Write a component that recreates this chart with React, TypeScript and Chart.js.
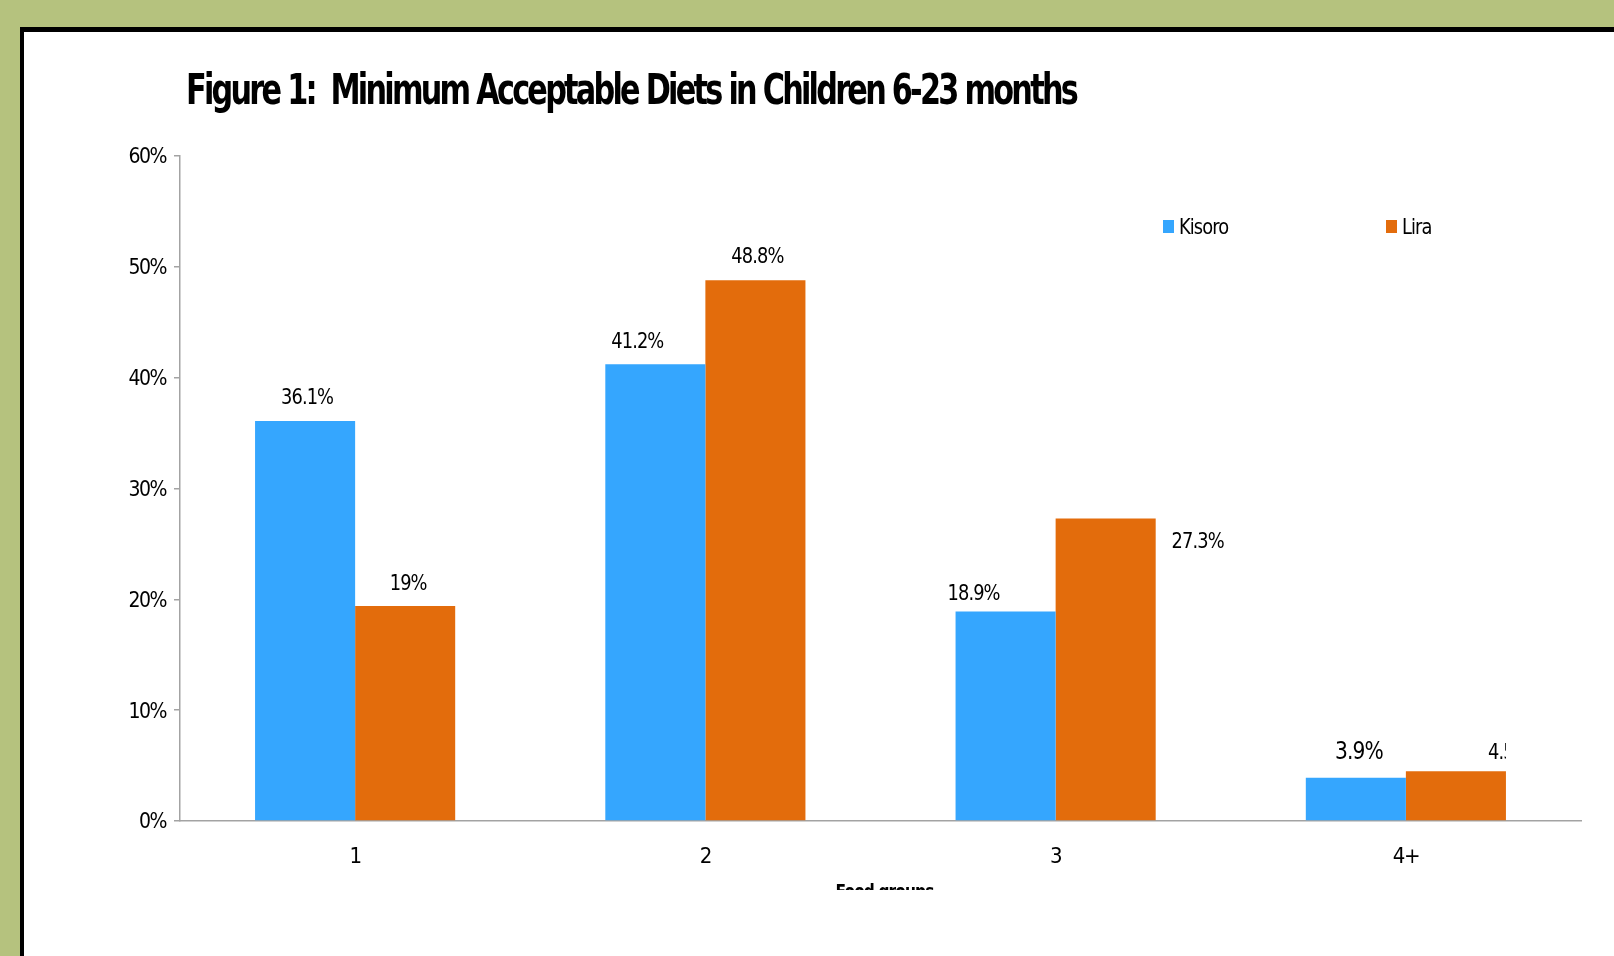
import React, { useEffect, useRef } from "react";
import { Chart, registerables } from "chart.js";
Chart.register(...registerables);

// ---- data ----
const categories = ["1", "2", "3", "4+"];
const seriesNames = ["Kisoro", "Lira"];
const kisoroValues = [36.1, 41.2, 18.9, 3.9];
const liraValues = [19.4, 48.8, 27.3, 4.5];
const kisoroLabels = ["36.1%", "41.2%", "18.9%", "3.9%"];
const liraLabels = ["19%", "48.8%", "27.3%", "4.5%"];
const yTickValues = [0, 10, 20, 30, 40, 50, 60];
const chartTitle = "Figure 1:  Minimum Acceptable Diets in Children 6-23 months";
const xAxisTitle = "Food groups";

// ---- style ----
const FONT = "'DejaVu Sans Condensed', 'DejaVu Sans', sans-serif";
const BLUE = "#35A6FE";
const ORANGE = "#E36C0C";
const GREEN = "#B5C27E";
const AXIS = "#A3A3A3";
// per-label offsets relative to bar (center x, top y)
const kisoroLabelDx = [2, -18, -32, 3];
const kisoroLabelDy = [-23, -22, -17, -25];
const kisoroLabelSize = [22, 22, 22, 25];
const liraLabelDx = [3, 2, 92, 53];
const liraLabelDy = [-22, -23, 24, -18];
const liraLabelSize = [22, 22, 22, 22];
const liraLabelClipToBar = [false, false, false, true];

function drawText(
  ctx: CanvasRenderingContext2D,
  text: string,
  x: number,
  y: number,
  font: string,
  sx: number,
  align: CanvasTextAlign,
  baseline: CanvasTextBaseline,
  spacing = "-1px"
) {
  ctx.save();
  ctx.font = font;
  (ctx as any).letterSpacing = spacing;
  ctx.fillStyle = "#000";
  ctx.textAlign = align;
  ctx.textBaseline = baseline;
  ctx.translate(x, y);
  ctx.scale(sx, 1);
  ctx.fillText(text, 0, 0);
  ctx.restore();
}

const framePlugin = {
  id: "frame",
  beforeDraw(chart: any) {
    const ctx = chart.ctx as CanvasRenderingContext2D;
    const w = chart.width, h = chart.height;
    ctx.save();
    ctx.fillStyle = GREEN;
    ctx.fillRect(0, 0, w, h);
    ctx.fillStyle = "#000";
    ctx.fillRect(20, 27, w - 20, h - 27);
    ctx.fillStyle = "#fff";
    ctx.fillRect(24, 32, w - 24, h - 32);
    ctx.restore();
    (ctx as any).letterSpacing = "-1.5px";
  },
};

const labelsPlugin = {
  id: "barLabels",
  afterDatasetsDraw(chart: any) {
    const ctx = chart.ctx as CanvasRenderingContext2D;
    const sets = [
      { labels: kisoroLabels, dx: kisoroLabelDx, dy: kisoroLabelDy, size: kisoroLabelSize, clip: [false, false, false, false] },
      { labels: liraLabels, dx: liraLabelDx, dy: liraLabelDy, size: liraLabelSize, clip: liraLabelClipToBar },
    ];
    sets.forEach((s, di) => {
      const meta = chart.getDatasetMeta(di);
      meta.data.forEach((bar: any, i: number) => {
        ctx.save();
        if (s.clip[i]) {
          ctx.beginPath();
          ctx.rect(0, 0, bar.x + bar.width / 2, chart.height);
          ctx.clip();
        }
        drawText(ctx, s.labels[i], bar.x + s.dx[i], bar.y + s.dy[i], `${s.size[i]}px ${FONT}`, 0.9, "center", "middle");
        ctx.restore();
      });
    });
  },
};

const decorPlugin = {
  id: "decor",
  afterDraw(chart: any) {
    const ctx = chart.ctx as CanvasRenderingContext2D;
    // title
    const tFont = `bold 43px ${FONT}`;
    ctx.save();
    ctx.font = tFont;
    (ctx as any).letterSpacing = "-3.5px";
    const tw = ctx.measureText(chartTitle).width;
    ctx.restore();
    drawText(ctx, chartTitle, 186, 104, tFont, 890 / tw, "left", "alphabetic", "-3.5px");

    // legend
    const colors = [BLUE, ORANGE];
    const legendX = [1163, 1386];
    seriesNames.forEach((name, i) => {
      ctx.save();
      ctx.fillStyle = colors[i];
      ctx.fillRect(legendX[i], 220, 11, 13);
      ctx.restore();
      drawText(ctx, name, legendX[i] + 16, 228, `22px ${FONT}`, 0.9, "left", "middle");
    });

    // x axis title (clipped at frame bottom)
    const ca = chart.chartArea;
    ctx.save();
    ctx.beginPath();
    ctx.rect(0, 0, chart.width, 890);
    ctx.clip();
    const xFont = `bold 20px ${FONT}`;
    ctx.font = xFont;
    (ctx as any).letterSpacing = "-1px";
    const xw = ctx.measureText(xAxisTitle).width;
    drawText(ctx, xAxisTitle, (ca.left + ca.right) / 2 + 4, 898, xFont, 98 / xw, "center", "alphabetic");
    ctx.restore();
  },
};

export default function App() {
  const ref = useRef<HTMLCanvasElement>(null);
  useEffect(() => {
    const canvas = ref.current!;
    const chart = new Chart(canvas, {
      type: "bar",
      data: {
        labels: categories,
        datasets: [
          { label: seriesNames[0], data: kisoroValues, backgroundColor: BLUE, categoryPercentage: 0.5714, barPercentage: 1.0 },
          { label: seriesNames[1], data: liraValues, backgroundColor: ORANGE, categoryPercentage: 0.5714, barPercentage: 1.0 },
        ],
      },
      options: {
        animation: false,
        responsive: false,
        devicePixelRatio: 1,
        layout: { padding: { left: 100, top: 156, right: 33, bottom: 0 } },
        plugins: {
          legend: { display: false },
          title: { display: false },
          tooltip: { enabled: false },
        },
        scales: {
          x: {
            grid: { drawOnChartArea: false, drawTicks: false },
            border: { color: AXIS, width: 1.5 },
            ticks: { font: { family: FONT, size: 22 }, color: "#000", padding: 23 },
            afterFit: (s: any) => { s.height = 135; },
          },
          y: {
            min: 0,
            max: 60,
            afterBuildTicks: (s: any) => { s.ticks = yTickValues.map((v) => ({ value: v })); },
            ticks: { font: { family: FONT, size: 21 }, color: "#000", padding: 8, labelOffset: 2, callback: (v: any) => v + "%" },
            grid: { drawOnChartArea: false, tickLength: 6, color: AXIS, lineWidth: 1.5 },
            border: { color: AXIS, width: 1.5 },
            afterFit: (s: any) => { s.width = 80; },
          },
        },
      },
      plugins: [framePlugin, labelsPlugin, decorPlugin],
    });
    return () => chart.destroy();
  }, []);
  return (
    <div style={{ position: "fixed", left: 0, top: 0, width: 1614, height: 956 }}>
      <canvas ref={ref} width={1614} height={956} style={{ width: 1614, height: 956, display: "block" }} />
    </div>
  );
}
